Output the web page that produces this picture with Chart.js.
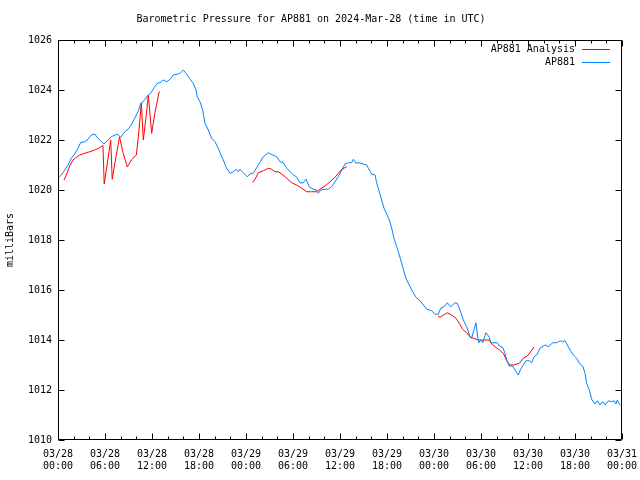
<!DOCTYPE html>
<html>
<head>
<meta charset="utf-8">
<script src="https://cdn.jsdelivr.net/npm/chart.js@4/dist/chart.umd.min.js"></script>
<style>
  html, body { margin: 0; padding: 0; background: #fff; }
  #wrap { width: 640px; height: 480px; }
</style>
</head>
<body>
<div id="wrap"><canvas id="pressureChart" width="640" height="480"></canvas></div>
<script>
// hours since 03/28 00:00 UTC
const stationHours = [
  0.0, 0.42, 0.86, 1.28, 1.70, 2.13, 2.55, 2.90, 3.41, 3.83, 4.25, 4.69, 5.02, 5.53, 5.87,
  6.38, 6.80, 7.57, 8.00, 8.51, 8.94, 9.36, 9.79, 10.21, 10.56, 10.98, 11.40, 11.83, 12.34, 12.77,
  13.02, 13.44, 13.88, 14.30, 14.72, 15.36, 15.66, 16.00, 16.34, 16.76, 17.27, 17.62, 17.78, 18.13,
  18.47, 18.77, 19.19, 19.62, 20.04, 20.46, 20.90, 21.10, 21.45, 21.96, 22.38, 22.72, 23.02, 23.23,
  23.66, 24.17, 24.51, 24.93, 25.57, 26.21, 26.85, 27.41, 27.92, 28.34, 28.76, 29.20, 29.83, 30.47,
  30.89, 31.31, 31.66, 32.08, 32.59, 33.03, 33.23, 33.54, 34.09, 34.51, 34.94, 35.36, 35.78, 36.22,
  36.64, 37.06, 37.49, 37.70, 38.04, 38.46, 38.97, 39.41, 39.61, 40.05, 40.47, 40.69, 41.02, 41.32,
  41.62, 41.96, 42.29, 42.60, 42.89, 43.24, 43.57, 43.88, 44.17, 44.51, 44.85, 45.28, 45.70, 46.12,
  46.56, 47.07, 47.70, 48.13, 48.55, 48.86, 49.28, 49.70, 50.13, 50.68, 50.97, 51.32, 51.74, 52.17,
  52.60, 52.81, 53.02, 53.36, 53.58, 53.74, 53.96, 54.22, 54.64, 55.06, 55.24, 56.08, 56.43, 56.77,
  57.06, 57.28, 57.61, 58.05, 58.34, 58.76, 59.07, 59.40, 59.74, 60.17, 60.47, 60.77, 61.11, 61.53,
  62.17, 62.59, 63.15, 63.66, 64.09, 64.43, 64.72, 65.02, 65.36, 65.78, 66.22, 66.55, 66.98, 67.28,
  67.49, 67.83, 68.13, 68.55, 68.85, 69.19, 69.54, 69.83, 70.26, 70.68, 70.98, 71.23, 71.40, 71.74
];
const stationPressure = [
  1020.48, 1020.6, 1020.8, 1021.0, 1021.27, 1021.44, 1021.67, 1021.9, 1021.93, 1022.03, 1022.2, 1022.24, 1022.1, 1021.93, 1021.84,
  1022.0, 1022.13, 1022.24, 1022.1, 1022.33, 1022.43, 1022.6, 1022.87, 1023.13, 1023.47, 1023.57, 1023.76, 1023.87, 1024.13, 1024.29,
  1024.29, 1024.4, 1024.33, 1024.43, 1024.6, 1024.64, 1024.69, 1024.8, 1024.67, 1024.47, 1024.27, 1024.0, 1023.73, 1023.53,
  1023.2, 1022.67, 1022.4, 1022.07, 1021.93, 1021.67, 1021.33, 1021.2, 1020.91, 1020.67, 1020.73, 1020.83, 1020.73, 1020.83,
  1020.69, 1020.53, 1020.64, 1020.67, 1021.0, 1021.33, 1021.49, 1021.4, 1021.33, 1021.13, 1021.09, 1020.87, 1020.67, 1020.51,
  1020.29, 1020.29, 1020.43, 1020.13, 1020.03, 1020.0, 1019.87, 1020.0, 1020.03, 1020.03, 1020.13, 1020.33, 1020.53, 1020.8,
  1021.04, 1021.09, 1021.09, 1021.23, 1021.07, 1021.09, 1021.04, 1021.0, 1020.87, 1020.64, 1020.6, 1020.27, 1019.93, 1019.6,
  1019.27, 1019.04, 1018.8, 1018.47, 1018.07, 1017.73, 1017.4, 1017.07, 1016.73, 1016.4, 1016.2, 1015.93, 1015.71, 1015.6,
  1015.44, 1015.23, 1015.17, 1015.03, 1015.03, 1015.27, 1015.33, 1015.49, 1015.33, 1015.49, 1015.47, 1015.2, 1014.8, 1014.53,
  1014.13, 1014.07, 1014.33, 1014.69, 1014.13, 1013.89, 1014.0, 1013.89, 1014.29, 1014.11, 1013.89, 1013.89, 1013.73, 1013.71,
  1013.47, 1013.2, 1012.96, 1012.96, 1012.8, 1012.6, 1012.83, 1013.0, 1013.17, 1013.17, 1013.09, 1013.33, 1013.4, 1013.67,
  1013.8, 1013.73, 1013.89, 1013.89, 1013.97, 1013.93, 1013.97, 1013.8, 1013.6, 1013.4, 1013.27, 1013.07, 1012.96, 1012.67,
  1012.27, 1012.0, 1011.63, 1011.44, 1011.57, 1011.4, 1011.53, 1011.4, 1011.57, 1011.53, 1011.57, 1011.44, 1011.6, 1011.4
];

// analysis runs, null marks a break between runs
const analysisHours = [
  0.77, 1.06, 1.49, 1.91, 2.34, 2.77, 3.41, 4.05, 4.69, 5.32, 5.74, 5.90, 6.17, 6.73, 6.92, 7.28,
  7.85, 8.30, 8.85, 9.36, 10.00, 10.28, 10.64, 10.89, 11.23, 11.53, 11.96, 12.38, 12.92,
  18.0,
  24.86, 25.15, 25.57, 26.21, 26.85, 27.28, 27.70, 28.12, 28.56, 29.20, 29.83, 30.47, 31.11, 31.75,
  32.39, 33.03, 33.45, 34.09, 34.72, 35.36, 35.78, 36.22, 36.86,
  42.0,
  48.51, 48.77, 49.19, 49.70, 50.26, 50.81, 51.23, 51.66, 52.17, 52.60, 53.02, 53.66, 54.29, 55.06,
  55.37, 55.79, 56.34, 56.85, 57.28, 57.70, 58.21, 58.89, 59.40, 59.91, 60.34, 60.77
];
const analysisPressure = [
  1020.4, 1020.6, 1020.96, 1021.2, 1021.31, 1021.4, 1021.47, 1021.53, 1021.6, 1021.69, 1021.78, 1020.24, 1020.8, 1022.0, 1020.43, 1021.1,
  1022.12, 1021.5, 1020.92, 1021.2, 1021.4, 1022.2, 1023.47, 1022.0, 1022.9, 1023.8, 1022.27, 1023.1, 1023.94,
  null,
  1020.3, 1020.43, 1020.69, 1020.77, 1020.87, 1020.83, 1020.73, 1020.73, 1020.64, 1020.47, 1020.29, 1020.2, 1020.07, 1019.93,
  1019.93, 1019.93, 1020.03, 1020.16, 1020.33, 1020.51, 1020.67, 1020.83, 1020.93,
  null,
  1014.95, 1014.91, 1015.0, 1015.09, 1015.0, 1014.87, 1014.67, 1014.43, 1014.29, 1014.13, 1014.07, 1014.0, 1014.0, 1014.0,
  1013.84, 1013.73, 1013.6, 1013.47, 1013.17, 1013.0, 1013.0, 1013.07, 1013.27, 1013.36, 1013.53, 1013.73
];

const tickLabels = [
  ['03/28', '00:00'], ['03/28', '06:00'], ['03/28', '12:00'], ['03/28', '18:00'],
  ['03/29', '00:00'], ['03/29', '06:00'], ['03/29', '12:00'], ['03/29', '18:00'],
  ['03/30', '00:00'], ['03/30', '06:00'], ['03/30', '12:00'], ['03/30', '18:00'],
  ['03/31', '00:00']
];

const toPoints = (xs, ys) => xs.map((h, i) => ({ x: h, y: ys[i] }));

Chart.defaults.font.family = "'DejaVu Sans Mono', 'Liberation Mono', monospace";
Chart.defaults.font.size = 10;
Chart.defaults.color = '#000';

// gnuplot style: border box, inward ticks on all sides, key in top right
const gnuFrame = {
  id: 'gnuFrame',
  afterDatasetsDraw(chart) {
    const { ctx, chartArea: a, scales: { x, y } } = chart;
    const L = Math.round(a.left) + 0.5, R = Math.round(a.right) - 0.5;
    const T = Math.round(a.top) + 0.5, B = Math.round(a.bottom) - 0.5;
    ctx.save();
    ctx.strokeStyle = '#000';
    ctx.lineWidth = 1;
    ctx.beginPath();
    ctx.rect(L, T, R - L, B - T);
    for (let h = 0; h <= 72; h += 2) {
      const px = Math.round(x.getPixelForValue(h)) + 0.5;
      const len = h % 6 === 0 ? 6 : 3;
      ctx.moveTo(px, B); ctx.lineTo(px, B - len);
      ctx.moveTo(px, T); ctx.lineTo(px, T + len);
    }
    for (let p = 1010; p <= 1026; p += 2) {
      const py = Math.round(y.getPixelForValue(p)) + 0.5;
      ctx.moveTo(L, py); ctx.lineTo(L + 6, py);
      ctx.moveTo(R, py); ctx.lineTo(R - 6, py);
    }
    ctx.stroke();

    // key
    ctx.font = "10px 'DejaVu Sans Mono', monospace";
    ctx.textAlign = 'right';
    ctx.textBaseline = 'middle';
    chart.data.datasets.forEach((ds, i) => {
      const ry = Math.round(a.top + 9 + i * 13) + 0.5;
      ctx.fillStyle = '#000';
      ctx.fillText(ds.label, a.right - 47, ry);
      ctx.strokeStyle = ds.borderColor;
      ctx.beginPath();
      ctx.moveTo(a.right - 40, ry);
      ctx.lineTo(a.right - 12, ry);
      ctx.stroke();
    });
    ctx.restore();
  }
};

new Chart(document.getElementById('pressureChart'), {
  type: 'line',
  data: {
    datasets: [
      {
        label: 'AP881 Analysis',
        data: toPoints(analysisHours, analysisPressure),
        borderColor: '#ff0000',
        borderWidth: 1,
        pointRadius: 0,
        tension: 0,
        spanGaps: false,
        order: 2
      },
      {
        label: 'AP881',
        data: toPoints(stationHours, stationPressure),
        borderColor: '#0080ff',
        borderWidth: 1,
        pointRadius: 0,
        tension: 0,
        order: 1
      }
    ]
  },
  options: {
    responsive: false,
    animation: false,
    layout: { padding: { left: 0, right: 18, top: 0, bottom: 0 } },
    scales: {
      x: {
        type: 'linear',
        min: 0,
        max: 72,
        grid: { display: false, drawTicks: false },
        border: { display: false },
        ticks: {
          stepSize: 6,
          autoSkip: false,
          maxRotation: 0,
          padding: 8,
          callback: v => tickLabels[v / 6] || ''
        },
        afterFit: s => { s.height = 40; s.paddingLeft = 0; s.paddingRight = 0; }
      },
      y: {
        min: 1010,
        max: 1026,
        grid: { display: false, drawTicks: false },
        border: { display: false },
        ticks: { stepSize: 2, padding: 6, callback: v => String(v) },
        title: { display: true, text: 'milliBars', padding: { top: 4, bottom: 0 } },
        afterFit: s => { s.width = 58; s.paddingTop = 0; s.paddingBottom = 0; }
      }
    },
    plugins: {
      legend: { display: false },
      tooltip: { enabled: false },
      title: {
        display: true,
        text: 'Barometric Pressure for AP881 on 2024-Mar-28 (time in UTC)',
        font: { size: 10, weight: 'normal' },
        color: '#000',
        padding: { top: 13, bottom: 15 }
      }
    }
  },
  plugins: [gnuFrame]
});
</script>
</body>
</html>
